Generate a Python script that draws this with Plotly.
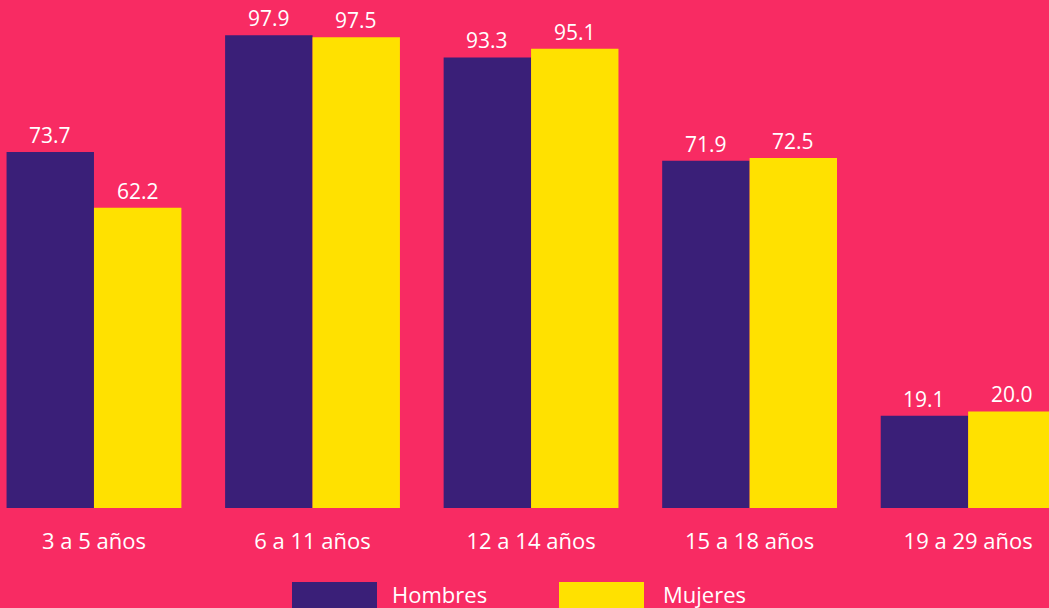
import plotly.graph_objects as go

categories = ["3 a 5 años", "6 a 11 años", "12 a 14 años", "15 a 18 años", "19 a 29 años"]
hombres = [73.7, 97.9, 93.3, 71.9, 19.1]
mujeres = [62.2, 97.5, 95.1, 72.5, 20.0]
series_names = ["Hombres", "Mujeres"]

BG = "#F82B63"
PURPLE = "#3A1F78"
YELLOW = "#FFE100"
FONT = "Open Sans"

fig = go.Figure()
offsets = [-0.2, 0.2]
for k, (name, vals, col) in enumerate([(series_names[0], hombres, PURPLE), (series_names[1], mujeres, YELLOW)]):
    xs = list(range(len(categories)))
    fig.add_trace(go.Bar(
        x=xs, y=vals, name=name, marker=dict(color=col, line=dict(width=0)),
        hoverinfo="skip",
    ))
    for xi, v in zip(xs, vals):
        fig.add_annotation(x=xi + offsets[k], y=v, xref="x", yref="y", text=f"{v:.1f}",
                           showarrow=False, yanchor="bottom", yshift=2, borderpad=0,
                           font=dict(color="white", size=21, family=FONT))

fig.update_layout(
    width=1049, height=608,
    paper_bgcolor=BG, plot_bgcolor=BG,
    margin=dict(l=0, r=0, t=0, b=100),
    barmode="group", bargap=0.2, bargroupgap=0,
    showlegend=False,
    font=dict(family=FONT, color="white"),
    xaxis=dict(range=[-0.43, 4.37], tickmode="array", tickvals=list(range(len(categories))),
               ticktext=categories, showgrid=False, zeroline=False, showline=False,
               tickfont=dict(size=22, color="white", family=FONT), ticks="outside",
               ticklen=14, tickcolor=BG, fixedrange=True),
    yaxis=dict(range=[0, 105.2], visible=False, showgrid=False, zeroline=False, fixedrange=True),
)

# legend drawn as swatches + labels
legend_items = [(series_names[0], PURPLE, 292 / 1049, 377 / 1049, 390 / 1049),
                (series_names[1], YELLOW, 559 / 1049, 644 / 1049, 661 / 1049)]
for name, col, x0, x1, tx in legend_items:
    fig.add_shape(type="rect", xref="paper", yref="paper", x0=x0, x1=x1,
                  y0=(508 - 612) / 508, y1=(508 - 582) / 508,
                  fillcolor=col, line=dict(width=0), layer="above")
    fig.add_annotation(xref="paper", yref="paper", x=tx, y=(508 - 594) / 508, text=name,
                       showarrow=False, xanchor="left", yanchor="middle",
                       font=dict(size=22, color="white", family=FONT))

fig.write_html("out.html", config={"displayModeBar": False},
               post_script="document.body.style.margin='0';document.body.style.padding='0';document.documentElement.style.background='" + BG + "';")
